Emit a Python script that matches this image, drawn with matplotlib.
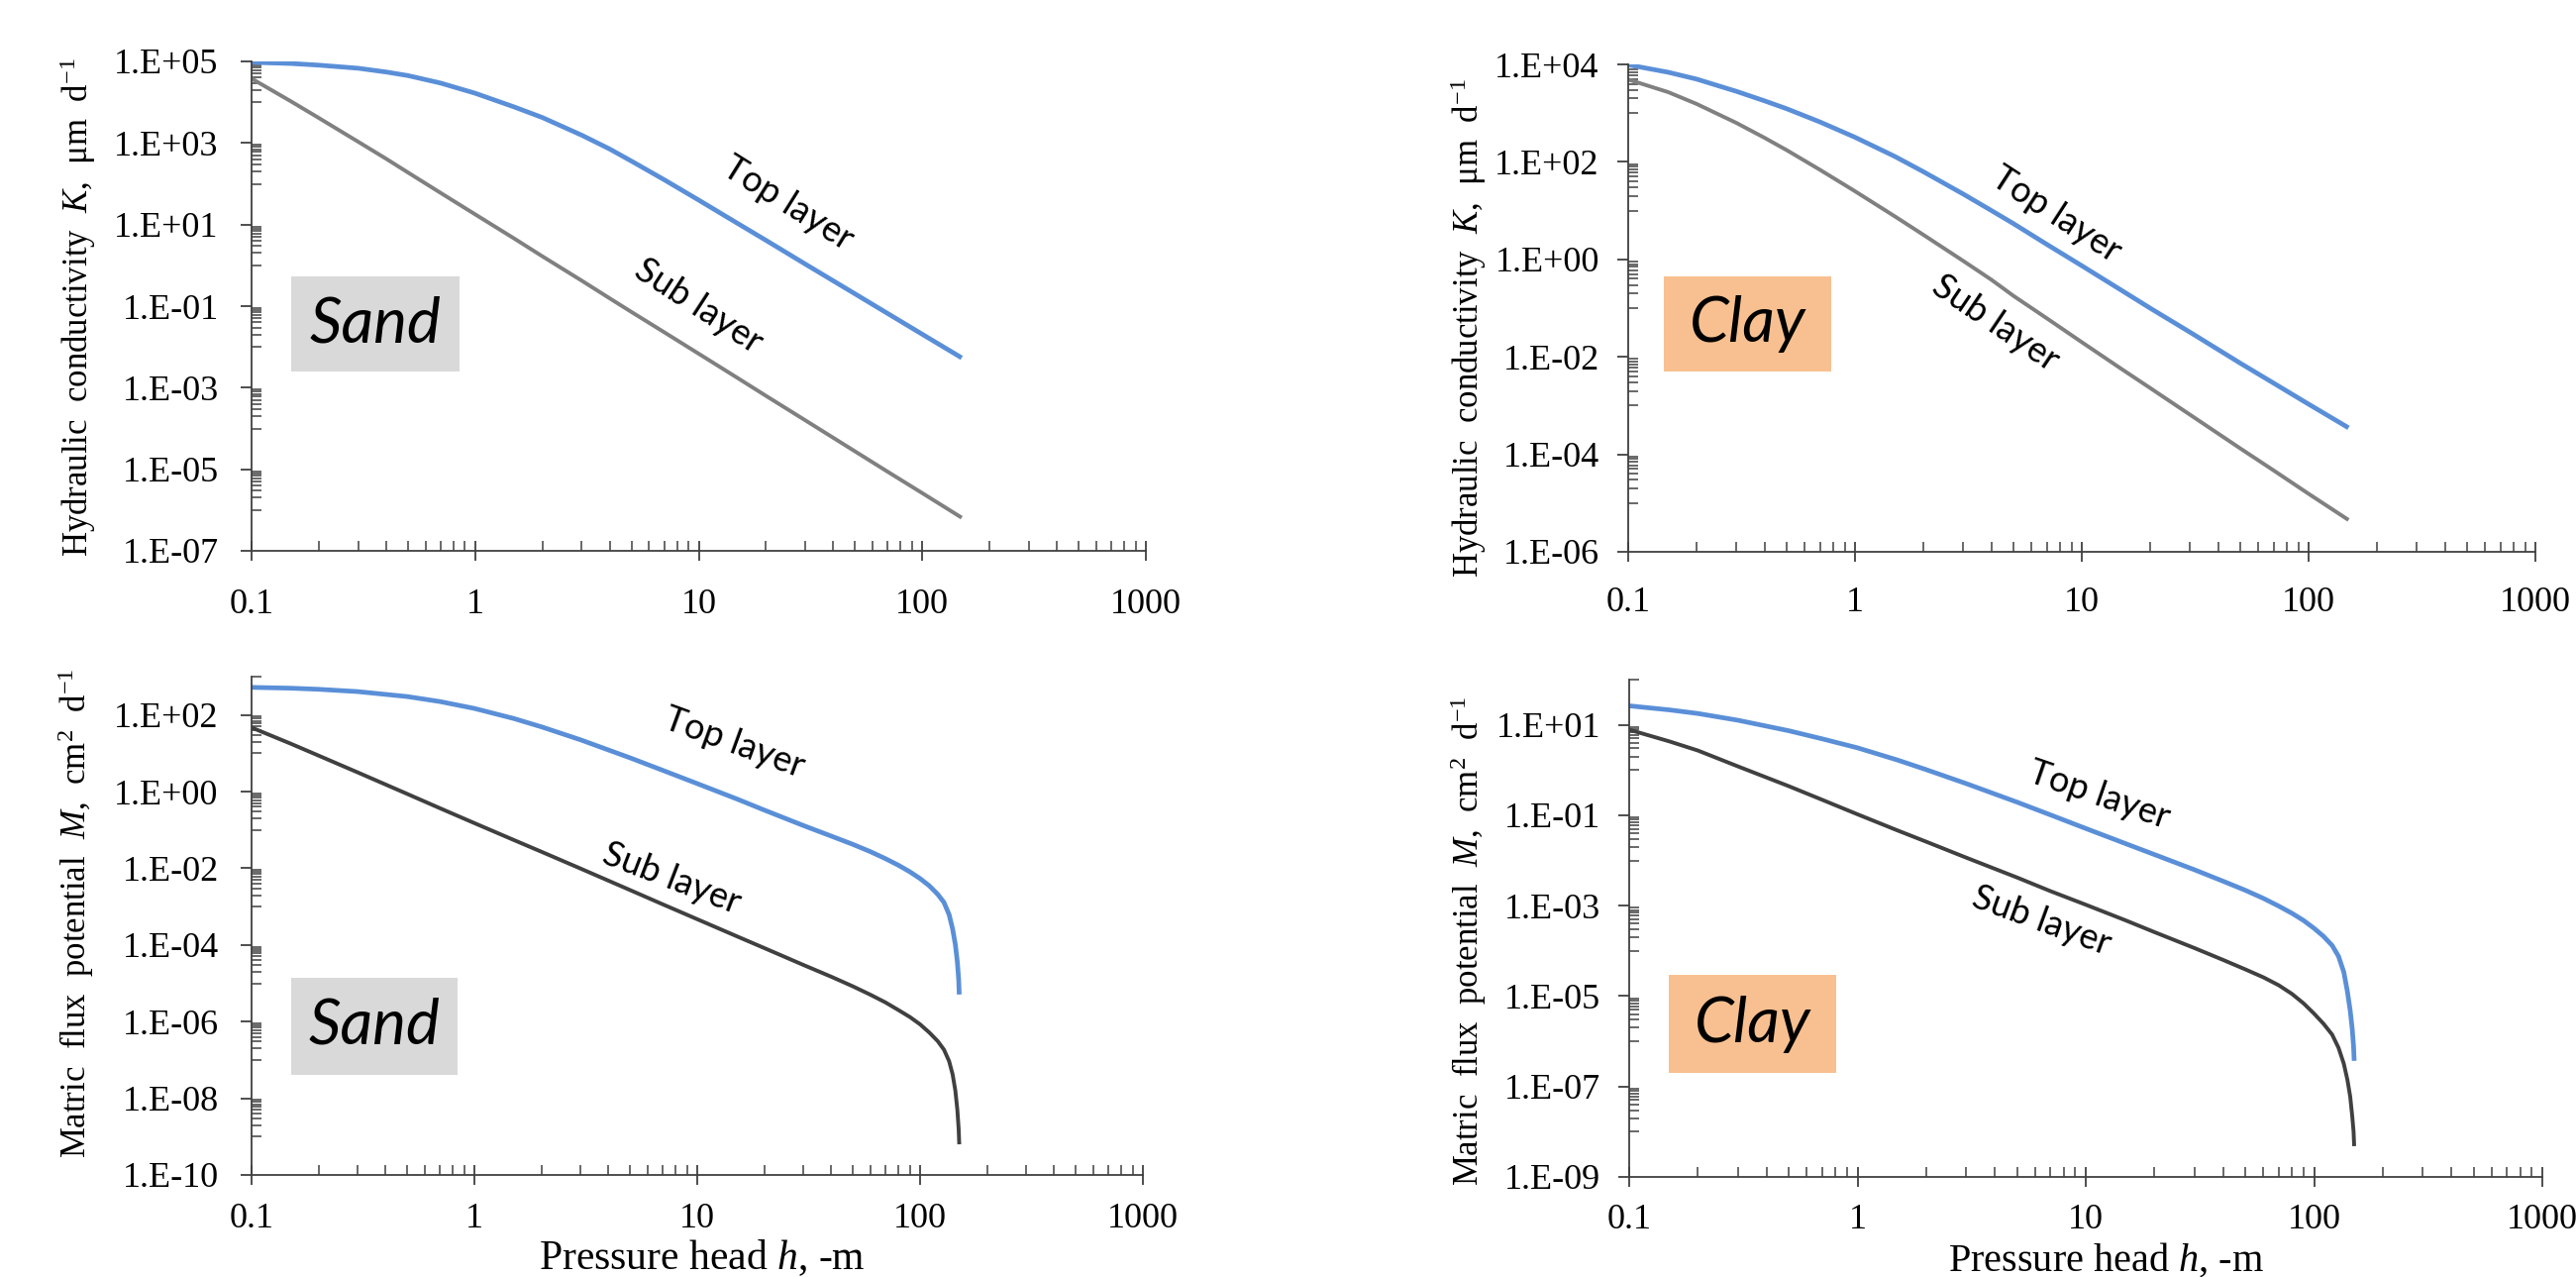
import matplotlib
matplotlib.use("Agg")
import matplotlib.pyplot as plt
from matplotlib.ticker import FixedLocator, FuncFormatter, NullFormatter
from matplotlib.patches import Rectangle
from math import log10

plt.rcParams['font.family'] = ['Liberation Serif', 'DejaVu Serif']
plt.rcParams['mathtext.fontset'] = 'custom'
plt.rcParams['mathtext.rm'] = 'Liberation Serif'
plt.rcParams['mathtext.it'] = 'Liberation Serif:italic'

FIG_W, FIG_H = 2601, 1289
BLUE = '#5A8FD8'
GREY = '#808080'
DARK = '#404040'
AXIS = '#404040'
SAND_BG = '#D9D9D9'
CLAY_BG = '#F8C090'

# pressure head h (m, negative sign dropped)
h_K = [0.1, 0.15, 0.2, 0.3, 0.4, 0.5, 0.7, 1, 1.5, 2, 3, 4, 5, 7, 10, 15, 20, 30, 50, 70, 100, 150]
h_M = [0.1, 0.15, 0.2, 0.3, 0.5, 0.7, 1, 1.5, 2, 3, 5, 7, 10, 15, 20, 30, 40, 50, 60, 70, 80,
       90, 100, 110, 120, 128, 135, 140, 144, 147, 149, 149.9]

# hydraulic conductivity K (um/d)
sand_top_K = [9.5e4, 8.9e4, 8.1e4, 6.8e4, 5.5e4, 4.5e4, 2.95e4, 1.66e4, 7.6e3, 4.2e3, 1.55e3,
              7.1e2, 3.6e2, 1.26e2, 39.8, 10.5, 4.1, 1.07, 0.20, 0.066, 0.0204, 5.4e-3]
sand_sub_K = [3.8e4, 1.05e4, 4.1e3, 1.07e3, 4.1e2, 1.9e2, 60, 17.8, 4.5, 1.66, 0.42,
              0.155, 0.072, 0.023, 6.8e-3, 1.7e-3, 6.3e-4, 1.58e-4, 2.75e-5, 8.7e-6, 2.6e-6, 6.5e-7]
clay_top_K = [9.8e3, 6.9e3, 5.0e3, 2.8e3, 1.78e3, 1.23e3, 6.6e2, 3.2e2, 1.29e2, 63, 21.9,
              10.0, 5.4, 2.04, 0.74, 0.23, 0.10, 0.032, 7.4e-3, 2.9e-3, 1.07e-3, 3.5e-4]
clay_sub_K = [4.9e3, 2.7e3, 1.55e3, 6.3e2, 3.1e2, 1.74e2, 69, 25, 7.6, 3.2, 0.93,
              0.38, 0.178, 0.062, 0.020, 5.6e-3, 2.3e-3, 6.5e-4, 1.32e-4, 4.7e-5, 1.55e-5, 4.5e-6]

# matric flux potential M (cm2/d)
sand_top_M = [525, 500, 468, 407, 302, 224, 148, 81, 49, 22.4, 7.6, 3.6, 1.62, 0.65, 0.33,
              0.13, 0.069, 0.042, 0.027, 0.0178, 0.012, 8.1e-3, 5.4e-3, 3.5e-3, 2.1e-3,
              1.29e-3, 6.2e-4, 2.6e-4, 1.02e-4, 3.6e-5, 1.26e-5, 5.1e-6]
sand_sub_M = [47, 17.8, 8.7, 3.16, 0.87, 0.37, 0.151, 0.055, 0.027, 9.8e-3, 2.7e-3, 1.15e-3,
              4.7e-4, 1.7e-4, 8.3e-5, 3.0e-5, 1.48e-5, 8.3e-6, 5.0e-6, 3.16e-6, 2.0e-6,
              1.32e-6, 8.5e-7, 5.2e-7, 3.1e-7, 1.86e-7, 9.3e-8, 4.2e-8, 1.58e-8, 5.0e-9,
              1.58e-9, 6.3e-10]
clay_top_M = [26.3, 21.4, 17.8, 12.6, 7.4, 4.9, 3.1, 1.66, 1.02, 0.50, 0.195, 0.102, 0.051,
              0.0234, 0.0135, 6.2e-3, 3.47e-3, 2.19e-3, 1.45e-3, 9.8e-4, 6.8e-4, 4.7e-4,
              3.16e-4, 2.1e-4, 1.32e-4, 7.6e-5, 3.4e-5, 1.26e-5, 4.8e-6, 1.86e-6, 7.6e-7, 3.7e-7]
clay_sub_M = [7.8, 4.3, 2.7, 1.2, 0.44, 0.22, 0.105, 0.046, 0.026, 0.0115, 4.2e-3, 2.1e-3,
              1.05e-3, 4.7e-4, 2.6e-4, 1.15e-4, 6.3e-5, 3.9e-5, 2.6e-5, 1.74e-5, 1.12e-5,
              6.9e-6, 4.1e-6, 2.45e-6, 1.41e-6, 7.2e-7, 3.2e-7, 1.41e-7, 6.0e-8, 2.2e-8,
              1.0e-8, 4.8e-9]

x_ticks = [0.1, 1, 10, 100, 1000]
x_tick_labels = ['0.1', '1', '10', '100', '1000']

K_label = r'Hydraulic  conductivity  $K$,  μm  d$^{-1}$'
M_label = r'Matric  flux  potential  $M$,  cm$^{2}$  d$^{-1}$'
x_label = r'Pressure head $h$, -m'


def add_axes(fig, left, top, right, bottom):
    """Axes placed from pixel edges of the reference"""
    return fig.add_axes([left / FIG_W, 1 - bottom / FIG_H,
                         (right - left) / FIG_W, (bottom - top) / FIG_H])


def style_axes(ax, ymin_exp, ymax_exp, xpad, ypad):
    """Excel-like log axes: majors every 2 decades, minors in the decade below"""
    ax.set_xscale('log')
    ax.set_yscale('log')
    ax.set_xlim(0.1, 1000)
    ax.set_ylim(10.0 ** ymin_exp, 10.0 ** ymax_exp)
    for side in ['top', 'right']:
        ax.spines[side].set_visible(False)
    for side in ['left', 'bottom']:
        ax.spines[side].set_color(AXIS)
        ax.spines[side].set_linewidth(1.3)

    ax.xaxis.set_major_locator(FixedLocator(x_ticks))
    ax.xaxis.set_major_formatter(FuncFormatter(lambda v, p: x_tick_labels[x_ticks.index(v)]
                                               if v in x_ticks else ''))
    x_minor = [k * 10.0 ** n for n in range(-1, 3) for k in range(2, 10)]
    ax.xaxis.set_minor_locator(FixedLocator(x_minor))
    ax.xaxis.set_minor_formatter(NullFormatter())

    majors = list(range(ymin_exp, ymax_exp + 3, 2))
    ax.yaxis.set_major_locator(FixedLocator([10.0 ** m for m in majors if m <= ymax_exp]))
    ax.yaxis.set_major_formatter(FuncFormatter(lambda v, p: '1.E%+03d' % round(log10(v))))
    y_minor = [k * 10.0 ** (m - 1) for m in majors for k in range(1, 10)]
    y_minor = [v for v in y_minor if 10.0 ** ymin_exp * 0.999 < v <= 10.0 ** ymax_exp * 1.001]
    ax.yaxis.set_minor_locator(FixedLocator(y_minor))
    ax.yaxis.set_minor_formatter(NullFormatter())

    ax.tick_params(axis='x', which='major', direction='inout', length=15, width=1.3,
                   color=AXIS, labelsize=26, pad=xpad)
    ax.tick_params(axis='x', which='minor', direction='in', length=7, width=1.1, color=AXIS)
    ax.tick_params(axis='y', which='major', direction='out', length=8, width=1.3,
                   color=AXIS, labelsize=26, pad=ypad)
    ax.tick_params(axis='y', which='minor', direction='in', length=7, width=1.1, color=AXIS)


def draw_panel(ax, h, top, sub, sub_color, soil, soil_color, box, top_pos, sub_pos):
    """Two curves, their rotated names and the soil tag"""
    ax.plot(h, top, color=BLUE, lw=3.4, solid_capstyle='butt', solid_joinstyle='round')
    ax.plot(h, sub, color=sub_color, lw=2.8, solid_capstyle='butt', solid_joinstyle='round')
    ax.text(top_pos[0], top_pos[1], 'Top layer', transform=ax.transAxes, rotation=-top_pos[2],
            rotation_mode='anchor', ha='center', va='center', fontsize=26, family='Lato')
    ax.text(sub_pos[0], sub_pos[1], 'Sub layer', transform=ax.transAxes, rotation=-sub_pos[2],
            rotation_mode='anchor', ha='center', va='center', fontsize=26, family='Lato')
    x0, x1, y0, y1 = box
    ax.add_patch(Rectangle((x0, y0), x1 - x0, y1 - y0, transform=ax.transAxes,
                           facecolor=soil_color, edgecolor='none', zorder=0))
    ax.text((x0 + x1) / 2, (y0 + y1) / 2, soil, transform=ax.transAxes, ha='center',
            va='center', fontsize=46, style='italic', family='Lato')


fig = plt.figure(figsize=(FIG_W / 100, FIG_H / 100), dpi=100)

ax1 = add_axes(fig, 254, 62, 1157, 556)
style_axes(ax1, -7, 5, 20, 16)
draw_panel(ax1, h_K, sand_top_K, sand_sub_K, GREY, 'Sand', SAND_BG,
           (0.044, 0.233, 0.366, 0.561), (0.60, 0.71, 32), (0.50, 0.50, 33))

ax2 = add_axes(fig, 1644, 65, 2560, 557)
style_axes(ax2, -6, 4, 18, 13)
draw_panel(ax2, h_K, clay_top_K, clay_sub_K, GREY, 'Clay', CLAY_BG,
           (0.039, 0.224, 0.370, 0.565), (0.472, 0.693, 33), (0.405, 0.47, 34))

ax3 = add_axes(fig, 254, 683, 1154, 1186)
style_axes(ax3, -10, 3, 13, 16)
draw_panel(ax3, h_M, sand_top_M, sand_sub_M, DARK, 'Sand', SAND_BG,
           (0.044, 0.231, 0.201, 0.396), (0.541, 0.867, 20), (0.471, 0.594, 21))

ax4 = add_axes(fig, 1645, 686, 2567, 1188)
style_axes(ax4, -9, 2, 12, 13)
draw_panel(ax4, h_M, clay_top_M, clay_sub_M, DARK, 'Clay', CLAY_BG,
           (0.043, 0.227, 0.209, 0.406), (0.515, 0.767, 19), (0.451, 0.514, 20))

fig.text(79 / FIG_W, 1 - 310 / FIG_H, K_label, rotation=90, ha='center', va='center', fontsize=25)
fig.text(1483 / FIG_W, 1 - 331 / FIG_H, K_label, rotation=90, ha='center', va='center', fontsize=25)
fig.text(77 / FIG_W, 1 - 922 / FIG_H, M_label, rotation=90, ha='center', va='center', fontsize=25)
fig.text(1483 / FIG_W, 1 - 950 / FIG_H, M_label, rotation=90, ha='center', va='center', fontsize=25)
fig.text(709 / FIG_W, 1 - 1270 / FIG_H, x_label, ha='center', va='center', fontsize=30)
fig.text(2126 / FIG_W, 1 - 1272 / FIG_H, x_label, ha='center', va='center', fontsize=29)

fig.savefig('out.png', dpi=100)
